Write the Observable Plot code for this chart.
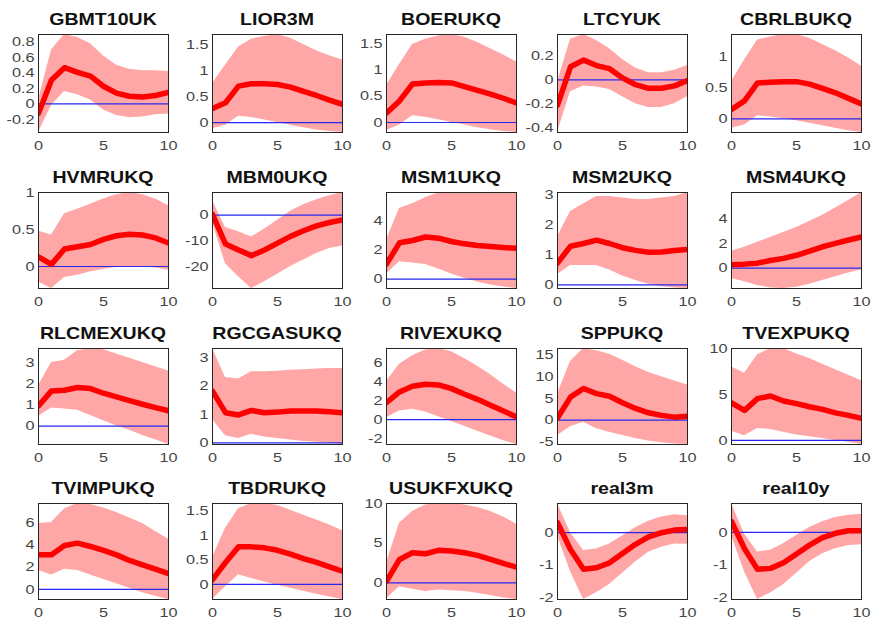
<!DOCTYPE html>
<html>
<head>
<meta charset="utf-8">
<script src="https://cdn.jsdelivr.net/npm/d3@7"></script>
<script src="https://cdn.jsdelivr.net/npm/@observablehq/plot@0.6"></script>
<style>
  html, body { margin: 0; padding: 0; background: #fff; }
  #grid { position: relative; width: 871px; height: 620px; overflow: hidden;
          font-family: "Liberation Sans", Arial, Helvetica, sans-serif; }
  .title { position: absolute; font-weight: bold; font-size: 17px; color: #111;
           white-space: nowrap; line-height: 1; transform: translate(-50%, -50%) scaleX(1.15); }
  .panel { position: absolute; }
  .panel svg { overflow: visible; display: block; }
</style>
</head>
<body>
<div id="grid"></div>
<script>
// Impulse responses over a 10-quarter horizon: median and error band per variable
const horizon = [0, 1, 2, 3, 4, 5, 6, 7, 8, 9, 10];
const xTicks = [0, 5, 10];

const names = [
  "GBMT10UK", "LIOR3M", "BOERUKQ", "LTCYUK", "CBRLBUKQ",
  "HVMRUKQ", "MBM0UKQ", "MSM1UKQ", "MSM2UKQ", "MSM4UKQ",
  "RLCMEXUKQ", "RGCGASUKQ", "RIVEXUKQ", "SPPUKQ", "TVEXPUKQ",
  "TVIMPUKQ", "TBDRUKQ", "USUKFXUKQ", "real3m", "real10y"
];

const irfMid = [
  [-0.12, 0.31, 0.47, 0.41, 0.36, 0.23, 0.14, 0.10, 0.09, 0.11, 0.15],
  [0.27, 0.38, 0.70, 0.745, 0.745, 0.73, 0.68, 0.60, 0.52, 0.43, 0.35],
  [0.18, 0.41, 0.73, 0.75, 0.76, 0.75, 0.68, 0.61, 0.54, 0.46, 0.37],
  [-0.21, 0.11, 0.166, 0.12, 0.094, 0.017, -0.04, -0.07, -0.07, -0.05, -0.006],
  [0.15, 0.29, 0.58, 0.59, 0.60, 0.60, 0.56, 0.49, 0.42, 0.33, 0.24],
  [0.13, 0.03, 0.24, 0.27, 0.30, 0.37, 0.42, 0.44, 0.43, 0.39, 0.32],
  [0.3, -11.3, -13.6, -15.8, -13.6, -10.9, -8.3, -6.1, -4.2, -2.9, -1.9],
  [1.04, 2.5, 2.66, 2.9, 2.82, 2.59, 2.43, 2.31, 2.24, 2.17, 2.13],
  [0.73, 1.29, 1.38, 1.49, 1.38, 1.24, 1.15, 1.09, 1.10, 1.15, 1.18],
  [0.28, 0.33, 0.41, 0.63, 0.8, 1.05, 1.38, 1.74, 2.01, 2.29, 2.54],
  [0.95, 1.66, 1.69, 1.82, 1.77, 1.55, 1.38, 1.2, 1.03, 0.87, 0.72],
  [1.82, 1.06, 0.98, 1.14, 1.06, 1.08, 1.12, 1.12, 1.12, 1.09, 1.06],
  [1.78, 2.9, 3.5, 3.7, 3.64, 3.25, 2.66, 2.13, 1.5, 0.9, 0.28],
  [0.5, 5.3, 7.3, 6.1, 5.5, 4.0, 2.7, 1.7, 1.1, 0.7, 0.9],
  [4.1, 3.27, 4.55, 4.84, 4.29, 4.0, 3.67, 3.38, 3.0, 2.73, 2.4],
  [3.1, 3.1, 3.94, 4.15, 3.85, 3.5, 3.1, 2.6, 2.2, 1.82, 1.42],
  [0.1, 0.45, 0.77, 0.77, 0.75, 0.7, 0.62, 0.53, 0.45, 0.36, 0.27],
  [0.2, 2.95, 3.8, 3.67, 4.1, 4.0, 3.8, 3.46, 2.95, 2.45, 1.98],
  [0.31, -0.52, -1.13, -1.08, -0.93, -0.64, -0.36, -0.13, 0.0, 0.08, 0.1],
  [0.33, -0.5, -1.13, -1.1, -0.93, -0.66, -0.39, -0.16, -0.03, 0.05, 0.05]
];

const irfLower = [
  [-0.37, -0.02, 0.16, 0.12, 0.05, -0.08, -0.15, -0.18, -0.17, -0.14, -0.13],
  [-0.12, -0.05, 0.12, 0.10, 0.05, 0.0, -0.05, -0.10, -0.14, -0.17, -0.19],
  [-0.15, -0.05, 0.13, 0.1, 0.05, 0.0, -0.05, -0.1, -0.14, -0.17, -0.19],
  [-0.44, -0.1, -0.05, -0.06, -0.08, -0.14, -0.2, -0.23, -0.23, -0.2, -0.14],
  [-0.15, -0.1, 0.05, 0.03, 0.0, -0.03, -0.07, -0.11, -0.15, -0.19, -0.22],
  [-0.21, -0.3, -0.15, -0.12, -0.07, -0.04, -0.01, 0.0, 0.0, -0.02, -0.05],
  [-3, -19, -24, -28.6, -26, -23, -20, -17.5, -15, -13, -12],
  [0.35, 1.2, 1.1, 1.0, 0.7, 0.35, 0.05, -0.2, -0.4, -0.55, -0.65],
  [0.35, 0.65, 0.65, 0.65, 0.5, 0.3, 0.15, 0.02, -0.05, -0.1, -0.12],
  [-0.83, -1.1, -1.4, -1.6, -1.65, -1.55, -1.3, -1.0, -0.7, -0.4, -0.14],
  [0.45, 0.85, 0.8, 0.75, 0.5, 0.25, 0.0, -0.2, -0.45, -0.65, -0.87],
  [0.82, 0.25, 0.15, 0.3, 0.2, 0.15, 0.1, 0.05, 0.02, 0.0, -0.06],
  [0.2, 0.9, 1.08, 0.8, 0.3, -0.2, -0.7, -1.2, -1.7, -2.2, -2.6],
  [-3.5, -1.5, -0.5, -2.0, -2.8, -3.5, -4.2, -4.8, -5.2, -5.5, -5.6],
  [1.0, 0.5, 1.3, 1.2, 0.9, 0.6, 0.4, 0.2, 0.0, -0.2, -0.44],
  [1.7, 1.3, 1.8, 1.7, 1.3, 0.9, 0.5, 0.1, -0.3, -0.6, -0.9],
  [-0.31, -0.05, 0.2, 0.12, 0.05, -0.02, -0.08, -0.14, -0.2, -0.26, -0.31],
  [-2.0, -0.5, -0.8, -1.1, -0.9, -1.0, -1.1, -1.3, -1.6, -1.9, -2.1],
  [-0.1, -1.2, -2.06, -1.85, -1.6, -1.25, -0.9, -0.6, -0.45, -0.35, -0.36],
  [-0.1, -1.2, -2.05, -1.85, -1.6, -1.25, -0.9, -0.65, -0.5, -0.4, -0.38]
];

const irfUpper = [
  [0.05, 0.70, 0.90, 0.86, 0.78, 0.62, 0.50, 0.45, 0.43, 0.43, 0.42],
  [0.75, 1.1, 1.45, 1.6, 1.65, 1.69, 1.62, 1.5, 1.38, 1.28, 1.2],
  [0.7, 1.1, 1.48, 1.58, 1.64, 1.67, 1.62, 1.52, 1.4, 1.28, 1.15],
  [-0.02, 0.34, 0.38, 0.33, 0.26, 0.17, 0.10, 0.06, 0.06, 0.08, 0.12],
  [0.6, 0.95, 1.27, 1.32, 1.36, 1.36, 1.3, 1.2, 1.1, 0.98, 0.85],
  [0.48, 0.43, 0.72, 0.78, 0.85, 0.92, 0.98, 1.01, 0.98, 0.92, 0.83],
  [5.6, -4.8, -6.5, -8.5, -5.5, -2, 1.5, 4, 6, 7.5, 8.8],
  [2.7, 4.86, 5.2, 5.6, 5.95, 5.97, 5.97, 5.97, 5.97, 5.97, 5.97],
  [1.6, 2.45, 2.7, 2.95, 2.95, 2.9, 2.85, 2.85, 2.9, 2.95, 3.08],
  [1.38, 1.7, 2.1, 2.5, 2.9, 3.3, 3.8, 4.3, 4.9, 5.5, 6.15],
  [1.9, 3.0, 3.1, 3.55, 3.66, 3.6, 3.4, 3.2, 3.0, 2.8, 2.6],
  [3.32, 2.3, 2.25, 2.5, 2.5, 2.52, 2.55, 2.57, 2.6, 2.62, 2.62],
  [4.0, 5.8, 6.7, 7.3, 7.45, 7.1, 6.4, 5.6, 4.7, 3.7, 2.8],
  [6, 13.5, 16.5, 16.0, 15.2, 13.8, 12.3, 11.0, 10.0, 9.0, 8.1],
  [8.0, 7.3, 9.3, 10, 10, 9.4, 8.9, 8.3, 7.7, 7.1, 6.5],
  [5.9, 6.0, 7.2, 7.7, 7.6, 7.3, 6.9, 6.4, 5.9, 5.2, 4.5],
  [0.55, 1.15, 1.55, 1.66, 1.66, 1.62, 1.52, 1.42, 1.32, 1.22, 1.1],
  [2.5, 7.5, 9.0, 9.8, 10, 10, 9.8, 9.5, 9.0, 8.3, 7.4],
  [0.9, 0.0, -0.55, -0.5, -0.35, -0.1, 0.15, 0.35, 0.48, 0.55, 0.52],
  [0.88, -0.05, -0.6, -0.55, -0.35, -0.1, 0.15, 0.32, 0.45, 0.52, 0.55]
];

const yTicks = [
  [-0.2, 0, 0.2, 0.4, 0.6, 0.8], [0, 0.5, 1, 1.5], [0, 0.5, 1, 1.5], [-0.4, -0.2, 0, 0.2], [0, 0.5, 1],
  [0, 0.5, 1], [-20, -10, 0], [0, 2, 4], [0, 1, 2, 3], [0, 2, 4],
  [0, 1, 2, 3], [0, 1, 2, 3], [-2, 0, 2, 4, 6], [-5, 0, 5, 10, 15], [0, 5, 10],
  [0, 2, 4, 6], [0, 0.5, 1, 1.5], [0, 5, 10], [-2, -1, 0], [-2, -1, 0]
];

// Grid geometry (plot-box edges within the page)
const boxLeft = [38, 212, 386, 557, 731];
const boxTop = [34, 192, 348, 503];
const boxHeight = [98, 96, 96, 96];
const boxWidth = 130;
const mLeft = 38, mRight = 6, mTop = 3, mBottom = 24;
const textStretch = 1.25;

const grid = document.getElementById("grid");

names.forEach((name, i) => {
  const row = Math.floor(i / 5), col = i % 5;
  const rows = horizon.map((h, j) => ({h, mid: irfMid[i][j], lo: irfLower[i][j], hi: irfUpper[i][j]}));
  const yDomain = [d3.min(rows, d => Math.min(d.lo, d.mid)), d3.max(rows, d => Math.max(d.hi, d.mid))];

  const chart = Plot.plot({
    width: mLeft + boxWidth + mRight,
    height: mTop + boxHeight[row] + mBottom,
    marginLeft: mLeft, marginRight: mRight, marginTop: mTop, marginBottom: mBottom,
    style: {
      background: "transparent",
      color: "#444",
      fontSize: "13px",
      fontFamily: "'Liberation Sans', Arial, Helvetica, sans-serif",
      overflow: "visible"
    },
    x: {domain: [0, 10], ticks: xTicks, tickSize: 0, tickPadding: 8, tickFormat: d => String(d), label: null},
    y: {domain: yDomain, ticks: yTicks[i], tickSize: 0, tickPadding: 4, tickFormat: d => String(d), label: null},
    marks: [
      Plot.areaY(rows, {x: "h", y1: "lo", y2: "hi", fill: "#ffa6a6", clip: true}),
      Plot.ruleY([0], {stroke: "#2727ee", strokeWidth: 1.2}),
      Plot.line(rows, {x: "h", y: "mid", stroke: "#ff0000", strokeWidth: 5.5, clip: true}),
      Plot.frame({stroke: "#262626", strokeWidth: 1})
    ]
  });

  // widen the tick labels horizontally around their anchor points;
  // the vertical (y / dy) placement is left untouched
  chart.querySelectorAll("text").forEach(el => {
    const xa = el.getAttribute("x");
    const x = xa !== null && !isNaN(+xa) ? +xa : 0;
    if (xa !== null && !isNaN(+xa)) el.removeAttribute("x");
    const t = el.getAttribute("transform") || "";
    el.setAttribute("transform", `${t} translate(${x},0) scale(${textStretch},1)`);
  });

  const panel = document.createElement("div");
  panel.className = "panel";
  panel.style.left = (boxLeft[col] - mLeft) + "px";
  panel.style.top = (boxTop[row] - mTop) + "px";
  panel.appendChild(chart);
  grid.appendChild(panel);

  const title = document.createElement("div");
  title.className = "title";
  title.textContent = name;
  title.style.left = (boxLeft[col] + boxWidth / 2) + "px";
  title.style.top = (boxTop[row] - 15) + "px";
  grid.appendChild(title);
});
</script>
</body>
</html>
